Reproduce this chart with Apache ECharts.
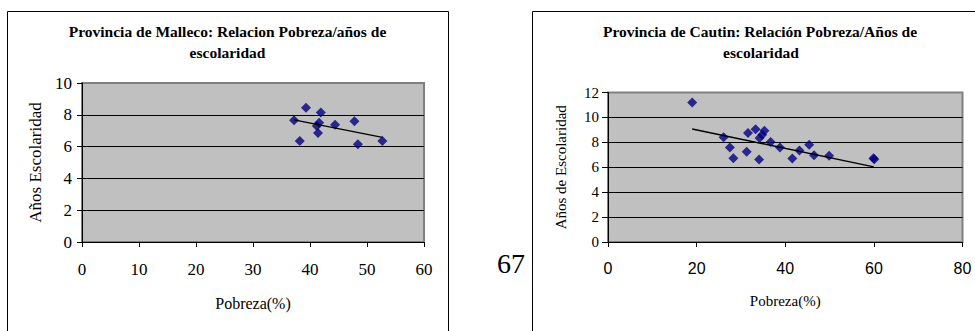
<!DOCTYPE html>
<html>
<head>
<meta charset="utf-8">
<script src="https://cdn.jsdelivr.net/npm/echarts@6/dist/echarts.min.js"></script>
<style>
html,body{margin:0;padding:0;background:#fff;}
#c{width:975px;height:331px;}
</style>
</head>
<body>
<div id="c"></div>
<script>
// ---- Data ----
var mallecoPobreza = [37.2, 39.3, 41.9, 41.6, 41.2, 41.4, 44.4, 47.8, 38.2, 48.4, 52.7];
var mallecoEscol   = [7.65, 8.45, 8.15, 7.5, 7.3, 6.85, 7.37, 7.6, 6.36, 6.15, 6.36];
var mallecoTrendX  = [37.2, 52.7];
var mallecoTrendY  = [7.68, 6.58];

var cautinPobreza = [19.0, 26.1, 27.5, 28.3, 31.3, 31.6, 33.3, 34.1, 34.2, 34.8, 35.3, 36.7, 38.8, 41.6, 43.2, 45.4, 46.5, 49.9, 59.9, 60.1];
var cautinEscol   = [11.2, 8.4, 7.58, 6.72, 7.24, 8.75, 9.05, 6.62, 8.35, 8.6, 8.93, 8.02, 7.58, 6.7, 7.35, 7.8, 6.96, 6.92, 6.72, 6.65];
var cautinTrendX  = [19.0, 60.0];
var cautinTrendY  = [9.07, 6.03];

var mallecoXTicks = [0, 10, 20, 30, 40, 50, 60];
var mallecoYTicks = [0, 2, 4, 6, 8, 10];
var cautinXTicks  = [0, 20, 40, 60, 80];
var cautinYTicks  = [0, 2, 4, 6, 8, 10, 12];

var titleMalleco = ['Provincia de Malleco: Relacion Pobreza/años de', 'escolaridad'];
var titleCautin  = ['Provincia de Cautin: Relación Pobreza/Años de', 'escolaridad'];
var pageNumber = '67';

function pairs(xs, ys) { return xs.map(function (x, i) { return [x, ys[i]]; }); }

var SERIF = 'Liberation Serif';
var SANS = 'Liberation Sans';

var chart = echarts.init(document.getElementById('c'), null, { renderer: 'svg' });

chart.setOption({
  animation: false,
  backgroundColor: '#ffffff',
  textStyle: { fontFamily: SERIF, color: '#000' },
  grid: [
    { left: 82, right: 551, top: 83, bottom: 89, show: true, backgroundColor: '#c0c0c0', borderColor: '#808080', borderWidth: 2 },
    { left: 608, right: 12.5, top: 92.5, bottom: 89, show: true, backgroundColor: '#c0c0c0', borderColor: '#808080', borderWidth: 2 }
  ],
  xAxis: [
    {
      gridIndex: 0, type: 'value',
      min: mallecoXTicks[0], max: mallecoXTicks[mallecoXTicks.length - 1], interval: mallecoXTicks[1] - mallecoXTicks[0],
      name: 'Pobreza(%)', nameLocation: 'middle', nameGap: 53,
      nameTextStyle: { fontFamily: SERIF, fontSize: 16, color: '#000' },
      axisLine: { show: true, onZero: false, lineStyle: { color: '#000', width: 1 } },
      axisTick: { show: true, length: 5, lineStyle: { color: '#000' } },
      axisLabel: { fontFamily: SERIF, fontSize: 17, color: '#000', margin: 19 },
      splitLine: { show: false }
    },
    {
      gridIndex: 1, type: 'value',
      min: cautinXTicks[0], max: cautinXTicks[cautinXTicks.length - 1], interval: cautinXTicks[1] - cautinXTicks[0],
      name: 'Pobreza(%)', nameLocation: 'middle', nameGap: 51,
      nameTextStyle: { fontFamily: SERIF, fontSize: 15, color: '#000' },
      axisLine: { show: true, onZero: false, lineStyle: { color: '#000', width: 1 } },
      axisTick: { show: true, length: 5, lineStyle: { color: '#000' } },
      axisLabel: { fontFamily: SANS, fontSize: 16, color: '#000', margin: 18 },
      splitLine: { show: false }
    }
  ],
  yAxis: [
    {
      gridIndex: 0, type: 'value',
      min: mallecoYTicks[0], max: mallecoYTicks[mallecoYTicks.length - 1], interval: mallecoYTicks[1] - mallecoYTicks[0],
      name: 'Años Escolaridad', nameLocation: 'middle', nameGap: 38, nameRotate: 90,
      nameTextStyle: { fontFamily: SERIF, fontSize: 17, color: '#000' },
      axisLine: { show: true, onZero: false, lineStyle: { color: '#000', width: 1 } },
      axisTick: { show: true, length: 5, lineStyle: { color: '#000' } },
      axisLabel: { fontFamily: SERIF, fontSize: 17, color: '#000', margin: 10 },
      splitLine: { show: true, showMaxLine: false, lineStyle: { color: '#000', width: 1 } }
    },
    {
      gridIndex: 1, type: 'value',
      min: cautinYTicks[0], max: cautinYTicks[cautinYTicks.length - 1], interval: cautinYTicks[1] - cautinYTicks[0],
      name: 'Años de Escolaridad', nameLocation: 'middle', nameGap: 40, nameRotate: 90,
      nameTextStyle: { fontFamily: SERIF, fontSize: 15, color: '#000' },
      axisLine: { show: true, onZero: false, lineStyle: { color: '#000', width: 1 } },
      axisTick: { show: true, length: 6, lineStyle: { color: '#000' } },
      axisLabel: { fontFamily: SERIF, fontSize: 15, color: '#000', margin: 9 },
      splitLine: { show: true, showMaxLine: false, lineStyle: { color: '#000', width: 1 } }
    }
  ],
  graphic: [
    { type: 'rect', silent: true, shape: { x: 7.5, y: 11.5, width: 441, height: 400 }, style: { fill: 'none', stroke: '#000', lineWidth: 1 } },
    { type: 'rect', silent: true, shape: { x: 532.5, y: 11.5, width: 460, height: 400 }, style: { fill: 'none', stroke: '#000', lineWidth: 1 } },
    { type: 'text', silent: true, x: 227.5, y: 31.5, style: { text: titleMalleco[0], font: 'bold 15.5px ' + SERIF, fill: '#000', textAlign: 'center', textVerticalAlign: 'middle' } },
    { type: 'text', silent: true, x: 227.5, y: 52, style: { text: titleMalleco[1], font: 'bold 15.5px ' + SERIF, fill: '#000', textAlign: 'center', textVerticalAlign: 'middle' } },
    { type: 'text', silent: true, x: 760, y: 31.5, style: { text: titleCautin[0], font: 'bold 15.5px ' + SERIF, fill: '#000', textAlign: 'center', textVerticalAlign: 'middle' } },
    { type: 'text', silent: true, x: 761, y: 52, style: { text: titleCautin[1], font: 'bold 15.5px ' + SERIF, fill: '#000', textAlign: 'center', textVerticalAlign: 'middle' } },
    { type: 'text', silent: true, x: 511, y: 263, style: { text: pageNumber, font: '28px ' + SERIF, fill: '#000', textAlign: 'center', textVerticalAlign: 'middle' } }
  ],
  series: [
    {
      type: 'scatter', xAxisIndex: 0, yAxisIndex: 0,
      data: pairs(mallecoPobreza, mallecoEscol),
      symbol: 'diamond', symbolSize: 10,
      itemStyle: { color: '#000080' }, z: 3
    },
    {
      type: 'line', xAxisIndex: 0, yAxisIndex: 0,
      data: pairs(mallecoTrendX, mallecoTrendY),
      showSymbol: false, symbol: 'none',
      lineStyle: { color: '#000', width: 1.5 }, z: 4
    },
    {
      type: 'scatter', xAxisIndex: 1, yAxisIndex: 1,
      data: pairs(cautinPobreza, cautinEscol),
      symbol: 'diamond', symbolSize: 10,
      itemStyle: { color: '#000080' }, z: 3
    },
    {
      type: 'line', xAxisIndex: 1, yAxisIndex: 1,
      data: pairs(cautinTrendX, cautinTrendY),
      showSymbol: false, symbol: 'none',
      lineStyle: { color: '#000', width: 1.5 }, z: 4
    }
  ]
});
</script>
</body>
</html>
